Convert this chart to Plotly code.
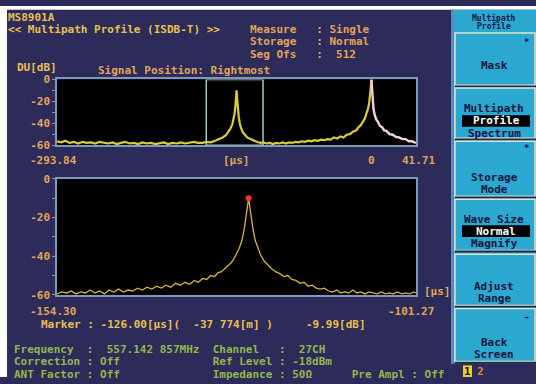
import plotly.graph_objects as go

W, H = 536, 384

# ---------------- data ----------------
upper_range = [-293.84, 41.71]
lower_range = [-154.30, -101.27]
gate_window = [-154.30, -101.27]

upper_x = [-293.84, -290, -286, -282, -278, -274, -270, -266, -262, -258, -254, -250,
           -246, -242, -238, -234, -230, -226, -222, -218, -214, -210, -206, -202,
           -198, -194, -190, -186, -182, -178, -174, -170, -166, -162,
           -158, -154, -150, -146, -142, -139, -136, -134, -132, -130, -129, -128,
           -127.2, -126.6, -126.0, -125.4, -124.8, -124, -123, -122, -120, -118, -116,
           -113, -110, -107, -104, -101,
           -98, -95, -92, -89, -86, -83, -80, -77, -74, -71, -68, -65, -62, -59, -56,
           -53, -50, -47, -44,
           -41, -38, -35, -32, -29, -26, -23, -20, -17, -14, -12, -10, -8, -6, -4.5,
           -3, -2, -1.2, -0.6, 0]
upper_db = [-56.5, -57.5, -56, -58, -57, -58.5, -57, -58, -57.5, -58.5, -57, -58,
            -58.5, -57.5, -59, -58, -57, -58.5, -58, -59, -57.5, -58.5, -58, -59,
            -58, -57.5, -59, -58, -58.5, -57.5, -58.5, -58, -57, -58,
            -58, -57, -57.5, -56, -54.5, -53, -51, -48.5, -45.5, -41, -37.5, -32,
            -25, -17, -10, -18, -27, -34, -40, -44, -48.5, -51, -53,
            -54.5, -56, -57, -58, -57.5,
            -58.5, -58, -59, -58, -58.5, -57.5, -58.5, -57.5, -58, -57, -57.5, -56.5, -57, -56, -56.5,
            -55.5, -56, -55, -55.5,
            -54.5, -55, -53, -54, -52, -53, -50.5, -50, -47.5, -46.5, -43.5, -42, -38, -35.5, -30.5,
            -26.5, -21, -15, -8, 0]

ref_x = [0, 0.6, 1.2, 2, 3, 4.5, 6, 8, 10, 12, 14, 17, 20, 23, 26, 29, 32, 35, 38, 41.71]
ref_db = [0, -10, -19, -27, -32, -36.5, -38.5, -42.5, -43.5, -46.5, -47, -50, -50.5,
          -52.5, -53, -54.5, -54.5, -56.5, -56.5, -58]

lower_x = [-154.30, -153.6, -152.9, -152.2, -151.5, -150.8, -150.1, -149.4, -148.7, -148.0,
           -147.3, -146.6, -145.9, -145.2, -144.5, -143.8, -143.1, -142.4, -141.7, -141.0,
           -140.3, -139.6, -138.9, -138.2, -137.5, -136.8, -136.1, -135.4, -134.7, -134.0,
           -133.4, -132.8, -132.2, -131.6, -131.0, -130.5, -130.0, -129.5, -129.0, -128.6,
           -128.2, -127.8, -127.4, -127.0, -126.7, -126.4, -126.2, -126.0, -125.8, -125.6,
           -125.3, -125.0, -124.6, -124.2, -123.7, -123.2, -122.6, -122.0, -121.4, -120.8,
           -120.2, -119.6, -119.0, -118.4, -117.8, -117.2, -116.6, -116.0, -115.4, -114.8,
           -114.2, -113.6, -113.0, -112.4, -111.8, -111.2, -110.6, -110.0, -109.4, -108.8,
           -108.2, -107.6, -107.0, -106.4, -105.8, -105.2, -104.6, -104.0, -103.4, -102.8,
           -102.2, -101.6, -101.27]
lower_db = [-59.5, -58.5, -59, -58, -59.5, -58.5, -59, -57.5, -59, -58,
            -59.5, -57.5, -58.5, -57, -58.5, -57.5, -58, -56.5, -57.5, -56,
            -57, -55.5, -56.5, -55, -56, -54, -55, -53.5, -54.5, -52.5,
            -53.5, -51.5, -52, -50, -50.5, -48.5, -48, -46.5, -45, -43.5,
            -41.5, -39, -36, -32, -27, -20, -15, -9.99, -15, -21,
            -27, -32, -36, -39.5, -42.5, -44.5, -46.5, -48, -49, -50.5,
            -50, -52, -52.5, -54, -53.5, -55.5, -55, -56.5, -57, -56.5,
            -58, -58.5, -57.5, -59, -58.5, -59, -57.5, -59, -58.5, -59.5,
            -58.5, -59, -59.5, -58.5, -59.5, -59, -59.5, -58.5, -59.5, -59,
            -59.5, -58.5, -59]

marker_x = [-126.00]
marker_db = [-9.99]

db_ticks = [0, -10, -20, -30, -40, -50, -60]
db_labels = ["0", "", "-20", "", "-40", "", "-60"]

# ---------------- styling ----------------
NAVY = "#2c2b5a"
ORANGE = "#e2a458"
YELLOW = "#e8c050"
GREEN = "#92b84c"
FRAME = "#8098b8"
CYAN = "#2ba8d0"
CREAM = "#e6e2c8"
DARK = "#161440"
MONO = "DejaVu Sans Mono"


def px(x):
    return x / W


def py(y):
    return 1 - y / H


def nb(s):
    return s.replace(" ", "\u00a0")


fig = go.Figure()

fig.add_trace(go.Scatter(x=upper_x, y=upper_db, mode="lines", xaxis="x", yaxis="y",
                         line=dict(color="#dccc3c", width=2.2), hoverinfo="skip"))
fig.add_trace(go.Scatter(x=ref_x, y=ref_db, mode="lines", xaxis="x", yaxis="y",
                         line=dict(color="#f0d2d8", width=2.4), hoverinfo="skip"))
fig.add_trace(go.Scatter(x=lower_x, y=lower_db, mode="lines", xaxis="x2", yaxis="y2",
                         line=dict(color="#d4b43c", width=1.3), hoverinfo="skip"))
fig.add_trace(go.Scatter(x=marker_x, y=marker_db, mode="markers", xaxis="x2", yaxis="y2",
                         marker=dict(color="#ff3030", size=6), hoverinfo="skip"))

xdom = [px(57), px(416)]
axis_common = dict(showgrid=False, zeroline=False, showline=True, mirror=True,
                   linecolor=FRAME, linewidth=1.5, fixedrange=True)
yaxis_common = dict(axis_common, range=[-60, 0], tickvals=db_ticks, ticktext=db_labels,
                    ticks="outside", ticklen=3, tickcolor=FRAME,
                    tickfont=dict(family=MONO, size=11, color=ORANGE, weight="bold"))

fig.update_layout(
    width=W, height=H, margin=dict(l=0, r=0, t=0, b=0),
    paper_bgcolor=NAVY, plot_bgcolor="#000000", showlegend=False,
    xaxis=dict(axis_common, domain=xdom, range=upper_range, showticklabels=False, anchor="y"),
    yaxis=dict(yaxis_common, domain=[py(144), py(76)], anchor="x"),
    xaxis2=dict(axis_common, domain=xdom, range=lower_range, showticklabels=False, anchor="y2"),
    yaxis2=dict(yaxis_common, domain=[py(299), py(179)], anchor="x2"),
)

shapes = []
# gate window in upper profile
shapes.append(dict(type="rect", xref="x", yref="y", x0=gate_window[0], x1=gate_window[1],
                   y0=-60, y1=0, line=dict(color="#a8c8c8", width=1.5), layer="above"))
# white margins of the photograph
shapes.append(dict(type="rect", xref="paper", yref="paper", x0=0, x1=1, y0=py(4), y1=1,
                   fillcolor="white", line=dict(width=0), layer="above"))
shapes.append(dict(type="rect", xref="paper", yref="paper", x0=0, x1=px(7), y0=0, y1=1,
                   fillcolor="white", line=dict(width=0), layer="above"))
# right soft-key panel
shapes.append(dict(type="rect", xref="paper", yref="paper", x0=px(451), x1=1, y0=py(370), y1=py(4),
                   fillcolor=CYAN, line=dict(width=0), layer="above"))
shapes.append(dict(type="rect", xref="paper", yref="paper", x0=px(451), x1=px(454), y0=py(370), y1=py(4),
                   fillcolor="#5a88c0", line=dict(width=0), layer="above"))
buttons = [(28, 82), (85, 137), (140, 197), (200, 253), (257, 310), (313, 368)]
for (b0, b1) in buttons:
    shapes.append(dict(type="rect", xref="paper", yref="paper", x0=px(455), x1=px(535),
                       y0=py(b1), y1=py(b0), fillcolor=CYAN, line=dict(color=CREAM, width=1.5),
                       layer="above"))
    shapes.append(dict(type="line", xref="paper", yref="paper", x0=px(455), x1=px(536),
                       y0=py(b1 + 1.2), y1=py(b1 + 1.2), line=dict(color="#1c2a50", width=2),
                       layer="above"))
# highlighted choices
for (h0, h1) in [(113, 125), (227, 239)]:
    shapes.append(dict(type="rect", xref="paper", yref="paper", x0=px(462), x1=px(530),
                       y0=py(h1), y1=py(h0), fillcolor="#000000", line=dict(width=0), layer="above"))
# page indicator
shapes.append(dict(type="rect", xref="paper", yref="paper", x0=px(463), x1=px(472),
                   y0=py(384), y1=py(372), fillcolor="#f0d028", line=dict(width=0), layer="above"))
fig.update_layout(shapes=shapes)

ann = []


def txt(s, x, y, color=ORANGE, size=11, anchor="left", bold=True):
    ann.append(dict(text=nb(s), x=px(x), y=py(y), xref="paper", yref="paper",
                    xanchor=anchor, yanchor="middle", showarrow=False,
                    font=dict(family=MONO, size=size, color=color,
                              weight="bold" if bold else "normal")))


txt("MS8901A", 6, 12, YELLOW)
txt("<< Multipath Profile (ISDB-T) >>", 6, 24, YELLOW)
txt("Measure   : Single", 248, 24)
txt("Storage   : Normal", 248, 37)
txt("Seg Ofs   :  512", 248, 50)
txt("DU[dB]", 15, 64, YELLOW)
txt("Signal Position: Rightmost", 96, 67)
txt("[μs]", 236, 160, anchor="center")
txt("[μs]", 422, 296)
txt("Marker : -126.00[μs](  -37 774[m] )     -9.99[dB]", 39, 330, YELLOW)

line1 = "Frequency  :  557.142 857MHz".ljust(30) + "Channel   :  27CH"
line2 = "Correction : Off".ljust(30) + "Ref Level : -18dBm"
line3 = "ANT Factor : Off".ljust(30) + "Impedance : 50Ω".ljust(21) + "Pre Ampl : Off"
txt(line1, 12, 356, GREEN)
txt(line2, 12, 368, GREEN)
txt(line3, 12, 381, GREEN)

# x-axis end labels placed on the axes' own scales
for lbl, xv, shift, xr, yv in [("-293.84", upper_range[0], -4, "x", 160),
                               ("0", 0, 0, "x", 160),
                               ("41.71", upper_range[1], 2, "x", 160),
                               ("-154.30", lower_range[0], -4, "x2", 316),
                               ("-101.27", lower_range[1], -5, "x2", 316)]:
    ann.append(dict(text=lbl, x=xv, y=py(yv), xref=xr, yref="paper", xanchor="center",
                    yanchor="middle", xshift=shift, showarrow=False,
                    font=dict(family=MONO, size=11, color=ORANGE, weight="bold")))

# soft-key labels
txt("Multipath", 494, 12, DARK, 8, "center")
txt("Profile", 494, 21, DARK, 8, "center")
txt("*", 526, 37, DARK, 9, "center")
txt("Mask", 494, 62, DARK, 11, "center")
txt("Multipath", 494, 106, DARK, 11, "center")
txt("Profile", 496, 119, "#ffffff", 11, "center")
txt("Spectrum", 494, 132, DARK, 11, "center")
txt("*", 526, 147, DARK, 9, "center")
txt("Storage", 494, 177, DARK, 11, "center")
txt("Mode", 494, 190, DARK, 11, "center")
txt("Wave Size", 494, 221, DARK, 11, "center")
txt("Normal", 496, 233, "#ffffff", 11, "center")
txt("Magnify", 494, 246, DARK, 11, "center")
txt("Adjust", 494, 290, DARK, 11, "center")
txt("Range", 494, 303, DARK, 11, "center")
txt("→", 526, 322, DARK, 8, "center")
txt("Back", 494, 348, DARK, 11, "center")
txt("Screen", 494, 361, DARK, 11, "center")
txt("1", 467.5, 378, DARK, 11, "center")
txt("2", 480, 378, "#e08030", 11, "center")

fig.update_layout(annotations=ann)
fig.write_html("out.html")
